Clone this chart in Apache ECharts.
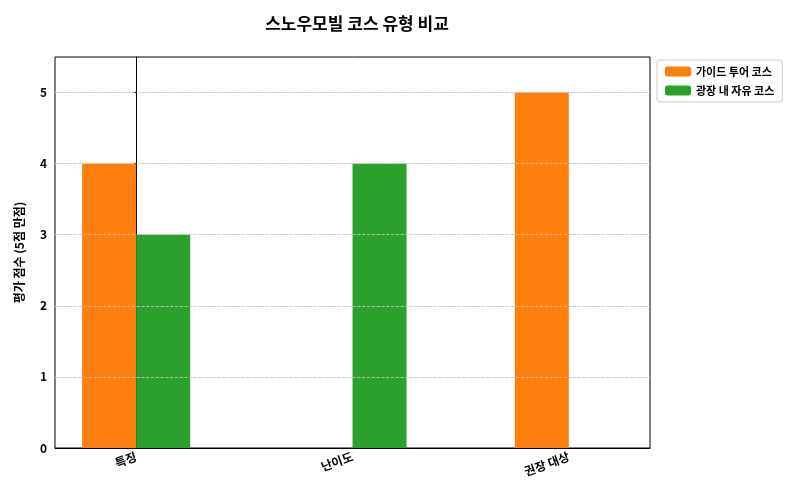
<!DOCTYPE html>
<html><head><meta charset="utf-8">
<script src="https://cdn.jsdelivr.net/npm/echarts@6/dist/echarts.min.js"></script>
</head><body style="margin:0">
<div id="c" style="width:800px;height:500px"></div>
<script>
const categories = ['특징', '난이도', '권장 대상'];
const guided = [4, 0, 5];
const free = [3, 4, 0];
const seriesNames = ['가이드 투어 코스', '광장 내 자유 코스'];
const yTicks = [0, 1, 2, 3, 4, 5];
const off = 0.125;
const font = '"Noto Sans CJK KR", sans-serif';
const chart = echarts.init(document.getElementById('c'));
chart.setOption({
  textStyle: {fontFamily: font},
  title: {text: '스노우모빌 코스 유형 비교', left: 352, top: 10, textAlign: 'center',
    textStyle: {fontSize: 17, fontWeight: 'bold', color: '#000', fontFamily: font}},
  grid: {left: 55, right: 150, top: 57, bottom: 52, show: true, borderColor: '#000', borderWidth: 1},
  legend: {orient: 'vertical', left: 657, top: 60, itemWidth: 26, itemHeight: 10, itemGap: 8,
    borderColor: '#ccc', borderWidth: 1, borderRadius: 3, padding: [6, 8],
    textStyle: {fontSize: 11, fontWeight: 'bold', color: '#000'}, data: seriesNames},
  xAxis: {type: 'value', min: -0.375, max: 2.375, interval: 0.125,
    splitLine: {show: false}, axisTick: {show: false},
    axisLine: {lineStyle: {color: '#000'}},
    axisLabel: {rotate: 20, color: '#000', fontSize: 12, fontWeight: 'bold', showMinLabel: true, showMaxLabel: true,
      formatter: v => (Math.abs(v - Math.round(v)) < 1e-9 && categories[Math.round(v)]) ? categories[Math.round(v)] : ''}},
  yAxis: {type: 'value', min: 0, max: 5.5, interval: 0.5,
    name: '평가 점수 (5점 만점)', nameLocation: 'middle', nameGap: 30,
    nameTextStyle: {fontSize: 12, fontWeight: 'bold', color: '#000'},
    axisLine: {show: true, lineStyle: {color: '#000'}},
    axisTick: {show: true, length: 4, customValues: yTicks},
    axisLabel: {color: '#000', fontSize: 12, fontWeight: 'bold',
      formatter: v => yTicks.includes(v) ? String(v) : ''},
    splitLine: {show: true, showMinLine: false, lineStyle: {type: 'dashed', color: '#ddd'}, interval: (i, v) => false}},
  series: [
    {name: seriesNames[0], type: 'bar', barWidth: 54, barGap: '-100%', itemStyle: {color: '#ff7f0e'},
      data: guided.map((v, i) => [i - off, v])},
    {name: seriesNames[1], type: 'bar', barWidth: 54, barGap: '-100%', itemStyle: {color: '#2ca02c'},
      data: free.map((v, i) => [i + off, v])},
    {type: 'line', silent: true, symbol: 'none', data: [], markLine: {silent: true, symbol: 'none',
      lineStyle: {type: 'dashed', color: '#ccc', width: 0.8}, label: {show: false},
      data: yTicks.slice(1).map(v => ({yAxis: v}))}}
  ]
});
</script></body></html>
